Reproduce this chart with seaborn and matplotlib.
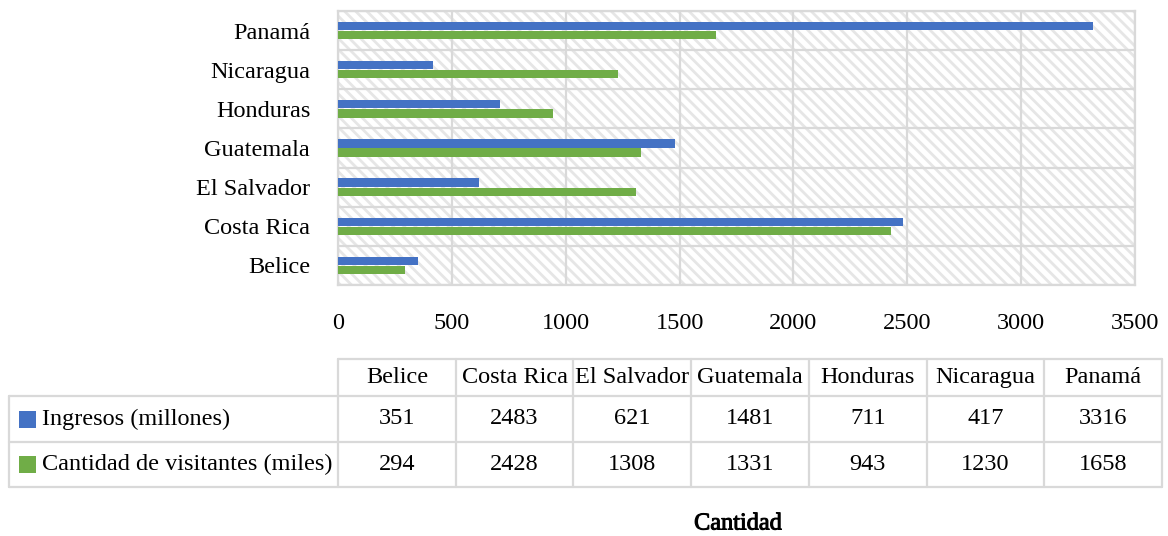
import numpy as np
import pandas as pd
import seaborn as sns
import matplotlib.pyplot as plt
import matplotlib.patheffects as pe
from matplotlib.patches import Rectangle
from matplotlib.lines import Line2D

# Turismo en Centroamérica
paises = ["Belice", "Costa Rica", "El Salvador", "Guatemala", "Honduras", "Nicaragua", "Panamá"]
ingresos = [351, 2483, 621, 1481, 711, 417, 3316]
visitantes = [294, 2428, 1308, 1331, 943, 1230, 1658]
series = ["Ingresos (millones)", "Cantidad de visitantes (miles)"]
colores = ["#4472C4", "#70AD47"]
x_ticks = [0, 500, 1000, 1500, 2000, 2500, 3000, 3500]
titulo_eje = "Cantidad"

sns.set_theme(style="white")
plt.rcParams["font.family"] = ["Liberation Serif", "DejaVu Serif"]
plt.rcParams["hatch.linewidth"] = 2.0
plt.rcParams["text.color"] = "black"

W, H = 1168, 536
fig = plt.figure(figsize=(W / 100, H / 100), dpi=100)


def fx(x):
    return x / W


def fy(y):
    return 1 - y / H


df = pd.DataFrame({
    "pais": paises * 2,
    "serie": [series[0]] * len(paises) + [series[1]] * len(paises),
    "valor": ingresos + visitantes,
})

ax = fig.add_axes([fx(338), fy(285), fx(1135) - fx(338), fy(11) - fy(285)])
sns.barplot(data=df, x="valor", y="pais", hue="serie", order=paises[::-1],
            hue_order=series, palette=colores, orient="h", width=0.47, gap=0.1,
            saturation=1, legend=False, linewidth=0, ax=ax, zorder=3)

# patterned plot area
ax.add_patch(Rectangle((0, 0), 1, 1, transform=ax.transAxes, facecolor="white",
                       edgecolor="#e6e6e6", hatch="\\\\\\", lw=0, zorder=0))

grid_c = "#d9d9d9"
ax.set_xlim(0, 3500)
ax.set_ylim(len(paises) - 0.5, -0.5)
ax.set_xticks(x_ticks)
ax.set_xticklabels([str(t) for t in x_ticks])
for t in x_ticks:
    ax.axvline(t, color=grid_c, lw=1.6, zorder=1)
for b in np.arange(-0.5, len(paises), 1.0):
    ax.axhline(b, color=grid_c, lw=1.6, zorder=1)
for s in ax.spines.values():
    s.set_color(grid_c)
    s.set_linewidth(1.6)
ax.set_xlabel("")
ax.set_ylabel("")
ax.tick_params(axis="both", length=0, labelsize=17.5, colors="black")
ax.tick_params(axis="y", pad=20)
ax.tick_params(axis="x", pad=20)

# data table below the chart
x0, xl, xr = 9, 338, 1162
cw = (xr - xl) / len(paises)
y_top, y1, y2, y_bot = 359, 396, 442, 487
line_kw = dict(color=grid_c, lw=1.6)


def hline(y, xa, xb):
    fig.add_artist(Line2D([fx(xa), fx(xb)], [fy(y), fy(y)], **line_kw))


def vline(x, ya, yb):
    fig.add_artist(Line2D([fx(x), fx(x)], [fy(ya), fy(yb)], **line_kw))


hline(y_top, xl, xr)
for y in (y1, y2, y_bot):
    hline(y, x0, xr)
vline(x0, y1, y_bot)
for i in range(len(paises) + 1):
    vline(xl + i * cw, y_top, y_bot)

fs = 17.5
for i, p in enumerate(paises):
    cx = xl + (i + 0.5) * cw
    fig.text(fx(cx), fy((y_top + y1) / 2), p, ha="center", va="center", fontsize=fs)
    fig.text(fx(cx), fy((y1 + y2) / 2), str(ingresos[i]), ha="center", va="center", fontsize=fs)
    fig.text(fx(cx), fy((y2 + y_bot) / 2), str(visitantes[i]), ha="center", va="center", fontsize=fs)

for (ya, yb), name, c in zip([(y1, y2), (y2, y_bot)], series, colores):
    cy = (ya + yb) / 2
    fig.add_artist(Rectangle((fx(19), fy(cy + 8.5)), fx(17), 17 / H, facecolor=c,
                             edgecolor="none", transform=fig.transFigure))
    fig.text(fx(42), fy(cy), name, ha="left", va="center", fontsize=fs)

fig.text(fx(738), fy(524), titulo_eje, ha="center", va="center", fontsize=fs,
         path_effects=[pe.withStroke(linewidth=0.7, foreground="black")])

fig.savefig("out.png", dpi=100)
